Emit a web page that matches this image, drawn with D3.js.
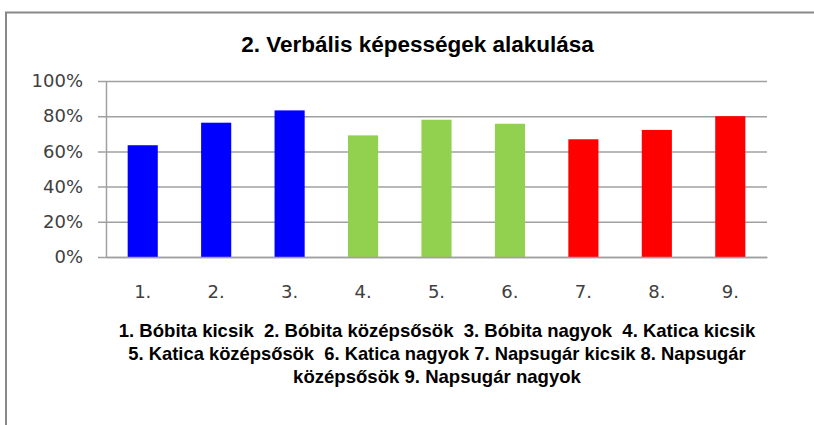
<!DOCTYPE html>
<html>
<head>
<meta charset="utf-8">
<script src="https://cdn.jsdelivr.net/npm/d3@7"></script>
<style>
  body { margin: 0; background: #fff; }
  svg { display: block; }
</style>
</head>
<body>
<div id="chart"></div>
<script>
// chart data
const categories = ["1.", "2.", "3.", "4.", "5.", "6.", "7.", "8.", "9."];
const values = [0.635, 0.763, 0.833, 0.691, 0.780, 0.757, 0.669, 0.722, 0.800];
const groups = ["Bóbita", "Bóbita", "Bóbita", "Katica", "Katica", "Katica", "Napsugár", "Napsugár", "Napsugár"];
const yTicks = [0, 0.2, 0.4, 0.6, 0.8, 1.0];
const title = "2. Verbális képességek alakulása";
const captionLines = [
  "1. Bóbita kicsik  2. Bóbita középsősök  3. Bóbita nagyok  4. Katica kicsik",
  "5. Katica középsősök  6. Katica nagyok 7. Napsugár kicsik 8. Napsugár",
  "középsősök 9. Napsugár nagyok"
];

const cfg = {
  w: 814,
  h: 425,
  margin: {top: 81, right: 47, bottom: 168, left: 106},
  color: {"Bóbita": "#0000ff", "Katica": "#92d050", "Napsugár": "#ff0000"}
};

const graphW = cfg.w - cfg.margin.left - cfg.margin.right;
const graphH = cfg.h - cfg.margin.top - cfg.margin.bottom;

const root = d3.select("#chart").append("svg")
  .attr("width", cfg.w)
  .attr("height", cfg.h);

// chart area frame (only left and top edges visible)
root.append("rect")
  .attr("x", 6).attr("y", 12.5)
  .attr("width", 900).attr("height", 500)
  .attr("fill", "none")
  .attr("stroke", "#888")
  .attr("stroke-width", 2);

// shrink/grow text so its width matches the reference
function fitWidth(sel, target) {
  const size = +sel.attr("font-size");
  const w = sel.node().getComputedTextLength();
  sel.attr("font-size", size * target / w);
}

const t = root.append("text")
  .attr("x", 417.5).attr("y", 52)
  .attr("text-anchor", "middle")
  .attr("font-family", "'Liberation Sans', Arial, sans-serif")
  .attr("font-weight", "bold")
  .attr("font-size", 20)
  .attr("fill", "#000")
  .text(title);
fitWidth(t, 353);

const svg = root.append("g")
  .attr("transform", "translate(" + cfg.margin.left + "," + cfg.margin.top + ")");

const x = d3.scaleBand()
  .domain(categories)
  .range([0, graphW])
  .paddingInner(0.59)
  .paddingOuter(0.295);

const y = d3.scaleLinear()
  .domain([0, 1])
  .range([graphH, 0]);

// gridlines + small tick marks on the left
const grid = svg.append("g")
  .call(d3.axisLeft(y).tickValues(yTicks).tickSize(-graphW).tickSizeOuter(0).tickFormat(""));
grid.select(".domain").remove();
grid.selectAll(".tick line")
  .attr("x1", -8)
  .attr("stroke", "#a0a0a0")
  .attr("stroke-width", 1.5);

const yAxis = svg.append("g")
  .call(d3.axisLeft(y).tickValues(yTicks).tickSize(8).tickSizeOuter(0).tickPadding(15)
    .tickFormat(d3.format(".0%")));
yAxis.select(".domain").attr("stroke", "#a0a0a0").attr("stroke-width", 1.5);
yAxis.selectAll(".tick line").remove();
yAxis.selectAll("text")
  .attr("font-family", "'DejaVu Sans', Verdana, sans-serif")
  .attr("font-size", 18)
  .attr("fill", "#404040");

// bars
svg.selectAll("rect.bar")
  .data(values)
  .enter()
  .append("rect")
  .attr("class", "bar")
  .attr("x", (d, i) => x(categories[i]))
  .attr("y", d => y(d))
  .attr("width", x.bandwidth())
  .attr("height", d => graphH - y(d))
  .attr("fill", (d, i) => cfg.color[groups[i]]);

const xAxis = svg.append("g")
  .attr("transform", "translate(0," + graphH + ")")
  .call(d3.axisBottom(x).tickSize(0).tickPadding(28));
xAxis.select(".domain").attr("stroke", "#a0a0a0").attr("stroke-width", 1.5);
xAxis.selectAll("text")
  .attr("font-family", "'DejaVu Sans', Verdana, sans-serif")
  .attr("font-size", 18)
  .attr("fill", "#404040");

// caption under the axis
const capW = [637, 618, 288];
const capY = [337, 360, 383];
const cap = root.append("g");
captionLines.forEach((line, i) => {
  const c = cap.append("text")
    .attr("x", 437).attr("y", capY[i])
    .attr("text-anchor", "middle")
    .attr("font-family", "'Liberation Sans', Arial, sans-serif")
    .attr("font-weight", "bold")
    .attr("font-size", 16)
    .attr("fill", "#000")
    .attr("xml:space", "preserve")
    .text(line);
  fitWidth(c, capW[i]);
});
</script>
</body>
</html>
